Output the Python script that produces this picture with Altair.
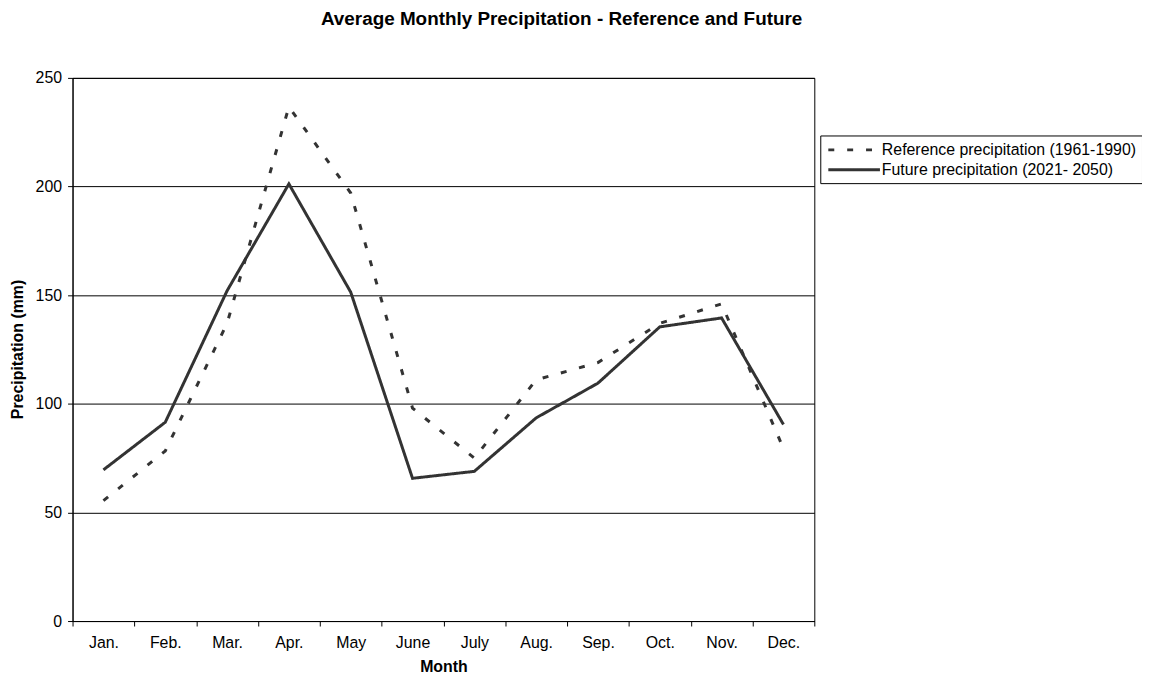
import altair as alt
import pandas as pd

months = ["Jan.", "Feb.", "Mar.", "Apr.", "May", "June", "July", "Aug.", "Sep.", "Oct.", "Nov.", "Dec."]
reference = [55.4, 78.3, 137, 236.7, 197, 98, 75, 111, 119, 137, 146, 79.4]
future = [69.6, 91.5, 152, 201.2, 151.4, 65.7, 68.9, 93.5, 109.5, 135.4, 139.5, 90.5]
series_names = ["Reference precipitation (1961-1990)", "Future precipitation (2021- 2050)"]

rows = []
for name, vals in zip(series_names, [reference, future]):
    for m, v in zip(months, vals):
        rows.append({"Month": m, "Precipitation": v, "Series": name})
df = pd.DataFrame(rows)

FONT = "Liberation Sans"

chart = alt.Chart(df).mark_line(strokeWidth=3, color="#333333").encode(
    x=alt.X("Month:N", sort=months,
            scale=alt.Scale(type="band", paddingInner=0, paddingOuter=0),
            axis=alt.Axis(title="Month", labelAngle=0, tickBand="extent",
                          labelFontSize=16, titleFontSize=16, titleFontWeight="bold",
                          labelPadding=9, titlePadding=8, tickSize=5,
                          domainColor="black", tickColor="black", labelColor="black",
                          titleColor="black", labelFont=FONT, titleFont=FONT)),
    y=alt.Y("Precipitation:Q",
            scale=alt.Scale(domain=[0, 250], nice=False),
            axis=alt.Axis(title="Precipitation (mm)", values=[0, 50, 100, 150, 200, 250],
                          grid=True, gridColor="black", gridOpacity=1, gridWidth=1,
                          labelFontSize=16, titleFontSize=16, titleFontWeight="bold",
                          tickSize=5, labelPadding=6,
                          domainColor="black", tickColor="black", labelColor="black",
                          titleColor="black", labelFont=FONT, titleFont=FONT,
                          titleX=-55, titleY=273, titleBaseline="middle")),
    strokeDash=alt.StrokeDash("Series:N",
                              scale=alt.Scale(domain=series_names, range=[[6, 13], [1, 0]]),
                              legend=alt.Legend(title=None, orient="none", legendX=753, legendY=58,
                                                symbolType="M-0.8,0H5.7", symbolSize=256,
                                                symbolStrokeWidth=3, symbolStrokeColor="#333333",
                                                labelFontSize=16, labelFont=FONT, labelColor="black",
                                                labelLimit=0, strokeColor="black", padding=5,
                                                rowPadding=2, labelOffset=38)),
).properties(
    width=747,
    height=547,
    title=alt.TitleParams("Average Monthly Precipitation - Reference and Future",
                          fontSize=19, fontWeight="bold", font=FONT, color="black",
                          anchor="middle", dx=119, offset=32, baseline="middle"),
    autosize=alt.AutoSizeParams(type="none"),
    padding={"left": 65, "top": 68, "right": 330, "bottom": 58},
).configure_view(stroke="black", strokeWidth=1)

chart.save("out.html", embed_options={"renderer": "svg", "actions": False})
